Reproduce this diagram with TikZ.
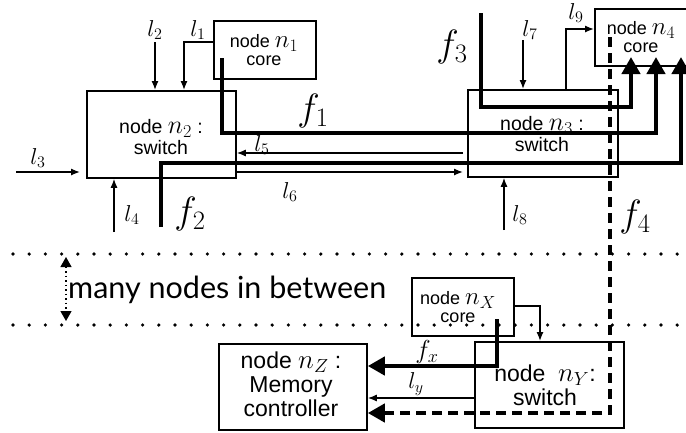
\RequirePackage{fix-cm}
\documentclass[tikz,border=0pt]{standalone}
\usepackage{fontspec}
\setmainfont{Liberation Sans}
\newfontfamily\gillfont{Lato}
\usetikzlibrary{arrows.meta}
\newcommand{\nmS}[1]{{\fontsize{25}{18}\selectfont$#1$}}
\newcommand{\nmA}[1]{{\fontsize{26}{21}\selectfont$#1$}}
\newcommand{\nmL}[1]{{\fontsize{27}{24}\selectfont$#1$}}
\begin{document}
\begin{tikzpicture}[x=1pt,y=-1pt,line join=miter,
  box/.style={draw,line width=1.8pt,inner sep=0pt,anchor=north west},
  txtA/.style={align=center,inner sep=0pt,font=\fontsize{19.5}{21}\selectfont},
  txtS/.style={align=center,inner sep=0pt,font=\fontsize{18}{18}\selectfont},
  txtL/.style={align=center,inner sep=0pt,font=\fontsize{23}{24}\selectfont},
  lab/.style={inner sep=0pt,font=\fontsize{23}{25}\selectfont},
  flab/.style={inner sep=0pt,font=\fontsize{38}{40}\selectfont},
  thinarrow/.style={line width=1.3pt,-{Latex[length=9pt,width=7pt]}},
  flow/.style={line width=4.5pt,-{Triangle[length=17pt,width=18pt]}},
  dflow/.style={line width=4.5pt,dash pattern=on 10pt off 6pt,-{Triangle[length=17pt,width=18pt]}},
  dotline/.style={line width=3.6pt,line cap=round,dash pattern=on 0pt off 16.2pt},
]
\useasboundingbox (0,0) rectangle (686,432);
\clip (0,0) rectangle (686,432);

% boxes
\node[box,minimum width=102pt,minimum height=58pt] (n1) at (213,20) {};
\node[box,minimum width=149pt,minimum height=87pt] (n2) at (86,90) {};
\node[box,minimum width=150pt,minimum height=87pt] (n3) at (467,89) {};
\node[box,minimum width=95pt,minimum height=57pt] (n4) at (594,8) {};
\node[box,minimum width=102pt,minimum height=58pt] (nX) at (411,277) {};
\node[box,minimum width=149pt,minimum height=86pt] (nY) at (474,341) {};
\node[box,minimum width=148pt,minimum height=86pt] (nZ) at (218,343) {};

% box texts
\node[txtS] (t1) at (264,50) {node \nmS{n_1}\\core};
\node[txtA] (t2) at (161,137) {node \nmA{n_2} :\\switch};
\node[txtA] (t3) at (542,134) {node \nmA{n_3} :\\switch};
\node[txtS] (t4) at (641,37) {node \nmS{n_4}\\core};
\node[txtS] (tX) at (458,307) {node \nmS{n_X}\\core};
\node[txtL] (tY) at (545,385) {node\ \ \nmL{n_Y}:\\switch};
\node[txtL] (tZ) at (291,384) {node \nmL{n_Z} :\\Memory\\controller};

% dotted separators
\coordinate (d1a) at (13,254);
\coordinate (d1b) at (680,254);
\coordinate (d2a) at (13,325);
\coordinate (d2b) at (680,325);
\draw[dotline] (d1a) -- (d1b);
\draw[dotline] (d2a) -- (d2b);
\coordinate (da) at (66,257);
\coordinate (db) at (66,321);
\draw[line width=1.3pt,dash pattern=on 1.5pt off 3pt,{Triangle[length=10pt,width=11pt]}-{Triangle[length=10pt,width=11pt]}] (da) -- (db);
\node[inner sep=0pt,anchor=west,font=\gillfont\fontsize{30.5}{33}\selectfont] (many) at (68,290) {many nodes in between};

% thin connectors
\coordinate (l2s) at (155,42);
\draw[thinarrow] (l2s) -- (l2s |- n2.north);
\coordinate (l1c) at (184,42);
\draw[thinarrow] (l1c -| n1.west) -- (l1c) -- (l1c |- n2.north);
\coordinate (l3s) at (16,172);
\coordinate (l3e) at (80,172);
\draw[thinarrow] (l3s) -- (l3e);
\coordinate (l4s) at (114,232);
\draw[thinarrow] (l4s) -- (l4s |- n2.south);
\coordinate (l5s) at (463,153);
\draw[thinarrow] (l5s) -- (l5s -| n2.east);
\coordinate (l6e) at (463,172);
\draw[thinarrow] (l6e -| n2.east) -- (l6e);
\coordinate (l7s) at (523,40);
\draw[thinarrow] (l7s) -- (l7s |- n3.north);
\coordinate (l8s) at (504,230);
\draw[thinarrow] (l8s) -- (l8s |- n3.south);
\coordinate (l9c) at (566,29);
\draw[thinarrow] (l9c |- n3.north) -- (l9c) -- (l9c -| n4.west);
\coordinate (lxc) at (540,306);
\draw[thinarrow] (lxc -| nX.east) -- (lxc) -- (lxc |- nY.north);
\coordinate (lys) at (474,398);
\draw[thinarrow] (lys) -- (lys -| nZ.east);

% flows
\coordinate (f1s) at (222,58);
\coordinate (f1c) at (222,133);
\coordinate (f1d) at (656,133);
\coordinate (f1e) at (656,57);
\draw[flow] (f1s) -- (f1c) -- (f1d) -- (f1e);
\coordinate (f2s) at (161,227);
\coordinate (f2c) at (161,163);
\coordinate (f2d) at (681,163);
\coordinate (f2e) at (681,57);
\draw[flow] (f2s) -- (f2c) -- (f2d) -- (f2e);
\coordinate (f3s) at (481,13);
\coordinate (f3c) at (481,107);
\coordinate (f3d) at (631,107);
\coordinate (f3e) at (631,57);
\draw[flow] (f3s) -- (f3c) -- (f3d) -- (f3e);
\coordinate (f4s) at (610,37);
\coordinate (f4c) at (610,413);
\draw[dflow] (f4s) -- (f4c) -- (f4c -| nZ.east);
\coordinate (fxs) at (497,319);
\coordinate (fxc) at (497,366);
\draw[flow] (fxs) -- (fxc) -- (fxc -| nZ.east);

% labels
\node[lab] (L1) at (198,30) {$l_1$};
\node[lab] (L2) at (155,30) {$l_2$};
\node[lab] (L3) at (38,158) {$l_3$};
\node[lab] (L4) at (132,215) {$l_4$};
\node[lab] (L5) at (262,145) {$l_5$};
\node[lab] (L6) at (290,192) {$l_6$};
\node[lab] (L7) at (530,30) {$l_7$};
\node[lab] (L8) at (520,215) {$l_8$};
\node[lab] (L9) at (576,13) {$l_9$};
\node[lab] (Ly) at (416,384) {$l_y$};
\node[flab] (F1) at (313,111) {$f_1$};
\node[flab] (F2) at (190,214) {$f_2$};
\node[flab] (F3) at (452,47) {$f_3$};
\node[flab] (F4) at (635,217) {$f_4$};
\node[lab,font=\fontsize{26}{28}\selectfont] (Fx) at (427,352) {$f_x$};
\end{tikzpicture}
\end{document}
